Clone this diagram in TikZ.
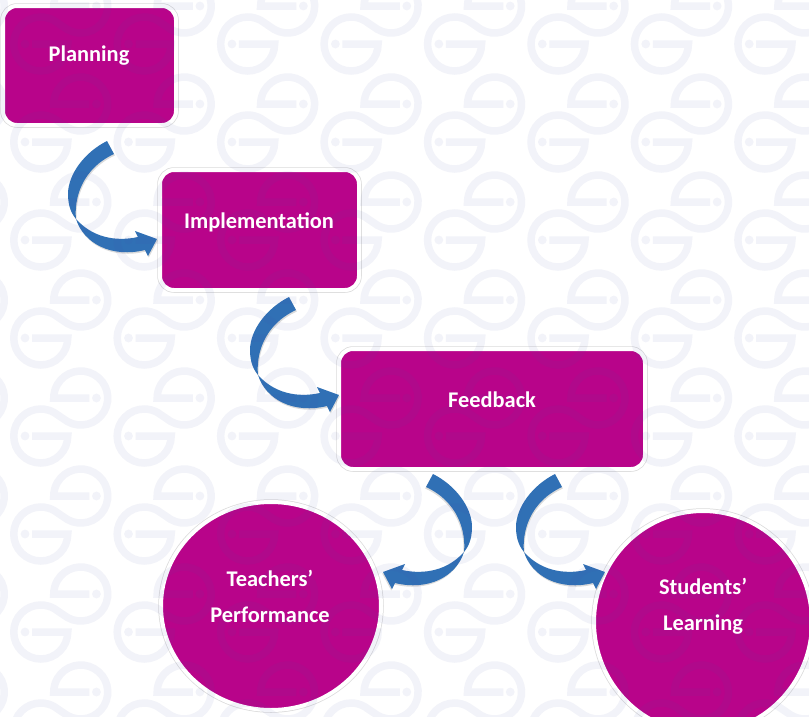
\documentclass[tikz,border=0pt]{standalone}
\usepackage{fontspec}
\setmainfont{Carlito}
\usetikzlibrary{shapes.geometric}
\definecolor{mag}{HTML}{B8048A}
\definecolor{rib}{HTML}{3070B5}
\definecolor{wm}{HTML}{4350A7}
\tikzset{
  panel/.style={fill=mag,draw=white,line width=4pt,inner sep=0pt,
    preaction={draw=black!14,line width=5.5pt}},
  boxnode/.style={panel,rectangle,rounded corners=14pt},
  roundnode/.style={panel,ellipse},
  lbl/.style={text=white,font=\bfseries\fontsize{22.4}{36}\selectfont,align=center,inner sep=0pt},
  ribbonfill/.style={fill=rib},
  ribbonshade/.style={fill=black,opacity=.14},
  wmline/.style={draw=wm,line width=7.5pt,opacity=.065,miter limit=4},
  wmdot/.style={fill=wm,opacity=.065}
}
\newcommand{\ribbonpath}{(17.5,14) .. controls (-4.5,25) and (-21.5,47) .. (-21.5,67)
  .. controls (-21.5,80) and (-17.5,87) .. (-13.5,92)
  .. controls (-5.5,117) and (22.5,131) .. (55.5,123)
  -- (58.5,129) -- (67.5,112) -- (45.5,104) -- (48.5,110)
  .. controls (25.5,115) and (2.5,110) .. (-13.5,92)
  .. controls (-15.5,72) and (-8,42) .. (24.5,27) -- cycle}
\newcommand{\ribbon}[2]{%
  \fill[ribbonshade,shift={#1},#2,shift={(0.8,1.5)}] \ribbonpath;
  \fill[ribbonfill,shift={#1},#2] \ribbonpath;}
\begin{document}
\begin{tikzpicture}[x=1pt,y=1pt,yscale=-1]
\clip (0,0) rectangle (809,716);
\fill[white] (0,0) rectangle (809,716);
% boxes and circles
\node[boxnode,minimum width=173pt,minimum height=119pt] (planning) at (89.5,65.5) {};
\node[boxnode,minimum width=199pt,minimum height=120pt] (impl) at (259.5,230) {};
\node[boxnode,minimum width=306pt,minimum height=120pt] (feedback) at (492,409) {};
\node[roundnode,minimum width=220pt,minimum height=208pt] (teachers) at (271,606) {};
\node[roundnode,minimum width=218pt,minimum height=222pt] (students) at (703,622) {};
% curved ribbon connectors
\ribbon{(planning.south)}{xscale=1}
\ribbon{([shift={(12,-9)}]impl.south)}{xscale=1}
\ribbon{([shift={(45.5,-11)}]feedback.south)}{xscale=1}
\ribbon{([shift={(-41.5,-11)}]feedback.south)}{xscale=-1}
% repeated logo pattern
\foreach \i in {-1,...,8}{\foreach \j in {0,...,8}{
  \begin{scope}[shift={(40.75+103.45*\i,44+98*\j)}]
    \draw[wmline] (-8.7,0) -- (27,0) arc (0:300:27) -- (26.5,-14.6) arc (120:-180:27 and 27) -- (48.7,-38);
    \fill[wmdot] (-15.7,0) circle (4.4);
    \fill[wmdot] (55.7,-38) circle (4.4);
  \end{scope}}}
% labels
\node[lbl] (planningtext) at (89,56) {Planning};
\node[lbl] (impltext) at (259,222) {Implementation};
\node[lbl] (feedbacktext) at (492,399.5) {Feedback};
\node[lbl] (teacherstext) at (270,596.5) {Teachers’\\Performance};
\node[lbl] (studentstext) at (703,606.5) {Students’\\Learning};
\end{tikzpicture}
\end{document}
